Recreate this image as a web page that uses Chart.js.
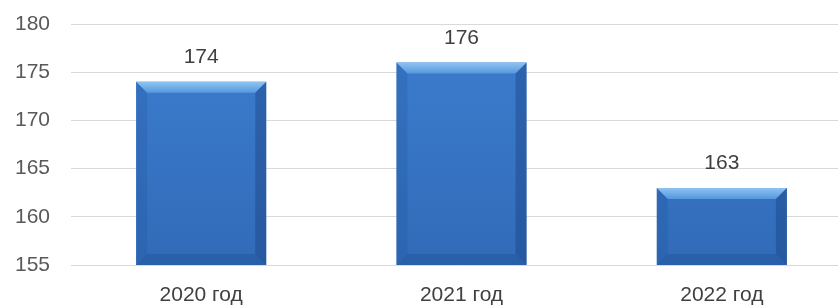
<!DOCTYPE html>
<html lang="ru">
<head>
    <meta charset="UTF-8">
    <title>Диаграмма по годам</title>
    <script src="https://cdn.jsdelivr.net/npm/chart.js"></script>
    <style>
        html, body { margin: 0; padding: 0; background: #fff; overflow: hidden; }
        #wrap { width: 838px; height: 307px; overflow: hidden; }
    </style>
</head>
<body>
    <div id="wrap">
        <canvas id="myChart" width="852" height="307"></canvas>
    </div>

    <script>
        const categories = ['2020 год', '2021 год', '2022 год'];
        const values = [174, 176, 163];
        const yTicks = [155, 160, 165, 170, 175, 180];

        const FONT = '"Liberation Sans", Arial, sans-serif';

        // Эффект рельефа как в Excel + подписи значений
        const bevelPlugin = {
            id: 'bevel',
            afterDatasetsDraw(chart) {
                const ctx = chart.ctx;
                const meta = chart.getDatasetMeta(0);
                const bottom = chart.chartArea.bottom;
                meta.data.forEach(function (bar, i) {
                    const p = bar.getProps(['x', 'y', 'width'], true);
                    const l = p.x - p.width / 2, r = p.x + p.width / 2;
                    const t = p.y, b = bottom;
                    const d = 11;
                    ctx.save();
                    // верх
                    let g = ctx.createLinearGradient(0, t, 0, t + d);
                    g.addColorStop(0, '#8fc4f2');
                    g.addColorStop(1, '#5597de');
                    ctx.fillStyle = g;
                    ctx.beginPath();
                    ctx.moveTo(l, t); ctx.lineTo(r, t); ctx.lineTo(r - d, t + d); ctx.lineTo(l + d, t + d);
                    ctx.closePath(); ctx.fill();
                    // лево
                    ctx.fillStyle = 'rgba(25, 75, 145, 0.2)';
                    ctx.beginPath();
                    ctx.moveTo(l, t); ctx.lineTo(l + d, t + d); ctx.lineTo(l + d, b - d); ctx.lineTo(l, b);
                    ctx.closePath(); ctx.fill();
                    // право
                    ctx.fillStyle = 'rgba(15, 50, 110, 0.32)';
                    ctx.beginPath();
                    ctx.moveTo(r, t); ctx.lineTo(r - d, t + d); ctx.lineTo(r - d, b - d); ctx.lineTo(r, b);
                    ctx.closePath(); ctx.fill();
                    // низ
                    ctx.fillStyle = 'rgba(15, 55, 120, 0.22)';
                    ctx.beginPath();
                    ctx.moveTo(l, b); ctx.lineTo(l + d, b - d); ctx.lineTo(r - d, b - d); ctx.lineTo(r, b);
                    ctx.closePath(); ctx.fill();
                    ctx.restore();

                    // подпись значения
                    ctx.save();
                    ctx.font = '21px ' + FONT;
                    ctx.fillStyle = '#404040';
                    ctx.textAlign = 'center';
                    ctx.textBaseline = 'alphabetic';
                    ctx.fillText(String(values[i]), p.x, t - 19);
                    ctx.restore();
                });
            }
        };

        const ctx = document.getElementById('myChart').getContext('2d');
        const bodyGrad = ctx.createLinearGradient(0, 24, 0, 265);
        bodyGrad.addColorStop(0, '#3d7ed0');
        bodyGrad.addColorStop(1, '#316bb8');

        new Chart(ctx, {
            type: 'bar',
            data: {
                labels: categories,
                datasets: [{
                    data: values,
                    backgroundColor: bodyGrad,
                    borderWidth: 0,
                    categoryPercentage: 1,
                    barPercentage: 0.5
                }]
            },
            options: {
                responsive: false,
                animation: false,
                layout: { padding: { top: 24, right: 0, left: 0, bottom: 0 } },
                plugins: {
                    legend: { display: false },
                    tooltip: { enabled: false }
                },
                scales: {
                    x: {
                        grid: { display: false },
                        border: { display: false },
                        ticks: {
                            color: '#404040',
                            font: { family: FONT, size: 21 },
                            padding: 10
                        },
                        afterFit: function (s) { s.height = 42; s.paddingLeft = 0; s.paddingRight = 0; }
                    },
                    y: {
                        min: 155,
                        max: 180,
                        afterBuildTicks: function (s) { s.ticks = yTicks.map(v => ({ value: v })); },
                        grid: { color: '#d9d9d9', lineWidth: 1, drawTicks: false },
                        border: { display: false },
                        ticks: {
                            color: '#595959',
                            font: { family: FONT, size: 21 },
                            padding: 21
                        },
                        afterFit: function (s) { s.width = 71; s.paddingTop = 0; s.paddingBottom = 0; }
                    }
                }
            },
            plugins: [bevelPlugin]
        });
    </script>
</body>
</html>
